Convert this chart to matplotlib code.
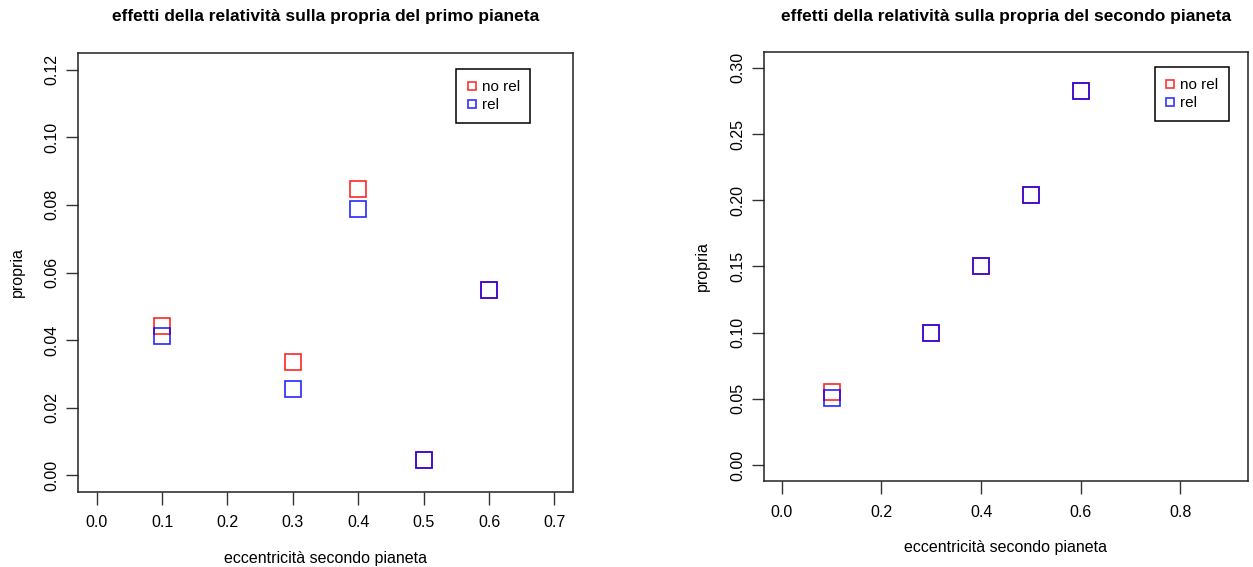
import numpy as np
import matplotlib
matplotlib.use("Agg")
import matplotlib.pyplot as plt

plt.rcParams['font.family'] = ['Liberation Sans', 'DejaVu Sans']

# dati
ecc_1 = [0.1, 0.3, 0.4, 0.5, 0.6]
norel_1 = [0.0443, 0.0334, 0.0846, 0.0047, 0.0547]
rel_1 = [0.0413, 0.0257, 0.0789, 0.0047, 0.0547]

ecc_2 = [0.1, 0.3, 0.4, 0.5, 0.6]
norel_2 = [0.0550, 0.1001, 0.1500, 0.2038, 0.2823]
rel_2 = [0.0507, 0.1001, 0.1500, 0.2038, 0.2823]

xticks_1 = np.arange(0, 0.71, 0.1)
yticks_1 = np.arange(0, 0.121, 0.02)
xticks_2 = np.arange(0, 0.81, 0.2)
yticks_2 = np.arange(0, 0.301, 0.05)

fig = plt.figure(figsize=(12.53, 5.67), dpi=100)


def pannello(rect, x, y_norel, y_rel, xlim, ylim, xt, yt, titolo, leg_xy):
    ax = fig.add_axes(rect)
    kw = dict(ls="", marker="s", ms=11.5, mfc="none", mew=1.2, alpha=0.85)
    ax.plot(x, y_norel, color="red", label="no rel", **kw)
    ax.plot(x, y_rel, color="blue", label="rel", **kw)
    # margine del 4% come in R
    dx = (xlim[1] - xlim[0]) * 0.04
    dy = (ylim[1] - ylim[0]) * 0.04
    ax.set_xlim(xlim[0] - dx, xlim[1] + dx)
    ax.set_ylim(ylim[0] - dy, ylim[1] + dy)
    ax.set_xticks(xt)
    ax.set_xticklabels(["%.1f" % v for v in xt], fontsize=11.5)
    ax.set_yticks(yt)
    ax.set_yticklabels(["%.2f" % v for v in yt], fontsize=11.5, rotation=90, va="center")
    ax.tick_params(direction="out", length=9, width=1.0, color="#333333")
    ax.tick_params(axis="x", pad=8)
    ax.tick_params(axis="y", pad=4.5)
    for s in ax.spines.values():
        s.set_linewidth(1.1)
        s.set_color("#222222")
    ax.set_xlabel("eccentricità secondo pianeta", fontsize=11.5, labelpad=15)
    ax.set_ylabel("propria", fontsize=11.5, labelpad=14.5)
    leg = ax.legend(loc="upper left", bbox_to_anchor=leg_xy, fontsize=11,
                    fancybox=False, edgecolor="black", framealpha=1,
                    markerscale=0.45, handlelength=0.6, handletextpad=0.35,
                    borderpad=0.7, labelspacing=0.28, borderaxespad=0)
    leg.get_frame().set_linewidth(1.1)
    for h in leg.legend_handles:
        h.set_alpha(0.8)
    x0, y0, w, h = rect
    fig.text(x0 + w / 2, 1 - 16 / 567, titolo, ha="center", va="center",
             fontsize=12.5, fontweight="bold")
    return ax


pannello([0.0625, 0.1328, 0.3946, 0.7732], ecc_1, norel_1, rel_1,
         (0, 0.7), (0, 0.12), xticks_1, yticks_1,
         "effetti della relatività sulla propria del primo pianeta", (0.7646, 0.9635))

pannello([0.6097, 0.1517, 0.3863, 0.7566], ecc_2, norel_2, rel_2,
         (0, 0.9), (0, 0.3), xticks_2, yticks_2,
         "effetti della relatività sulla propria del secondo pianeta", (0.8079, 0.9643))

fig.savefig("out.png", dpi=100)
